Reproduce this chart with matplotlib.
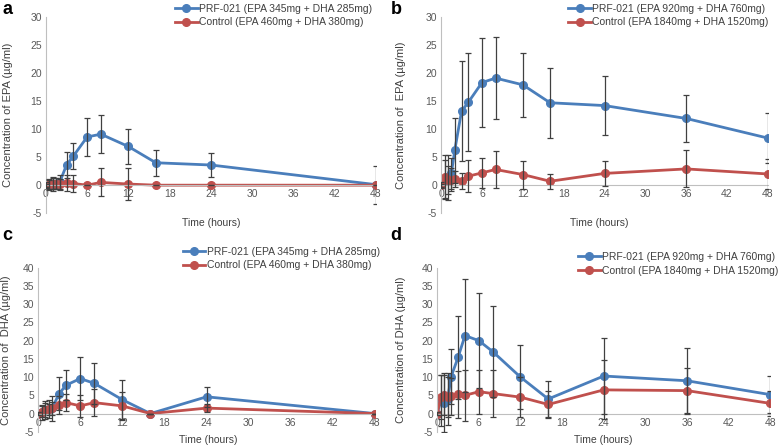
import numpy as np
import matplotlib.pyplot as plt

plt.rcParams['font.family'] = ['Liberation Sans', 'DejaVu Sans']
plt.rcParams['axes.unicode_minus'] = False

# sampling times (hours)
t_short = [0, 0.5, 1, 1.5, 2, 3, 4, 6, 8, 12, 16, 24, 48]
t_long = [0, 0.5, 1, 1.5, 2, 3, 4, 6, 8, 12, 16, 24, 36, 48]

# panel a - EPA, low dose
a_prf = [0, 0.1, 0.2, 0.3, 0.5, 3.6, 5.2, 8.6, 9.1, 6.9, 4.0, 3.6, 0.1]
a_prf_err = [0.5, 1.0, 1.2, 1.0, 1.3, 2.4, 2.3, 3.4, 3.4, 3.2, 2.3, 2.1, 3.4]
a_ctl = [0, 0.2, 0.3, 0.3, 0.2, 0.4, 0.3, 0.0, 0.5, 0.2, 0.0, 0.0, 0.0]
a_ctl_err = [0.3, 0.8, 1.0, 0.9, 0.9, 1.5, 1.6, 0.0, 2.5, 2.9, 0.0, 0.0, 0.0]

# panel b - EPA, high dose
b_prf = [0, 1.0, 1.3, 2.1, 6.2, 13.2, 14.8, 18.3, 19.1, 17.9, 14.7, 14.2, 11.9, 8.4]
b_prf_err = [0.5, 3.5, 4.0, 2.8, 5.8, 8.9, 8.7, 8.0, 7.3, 5.7, 6.2, 5.2, 4.2, 4.5]
b_ctl = [0, 1.5, 1.0, 1.0, 1.1, 0.7, 1.6, 2.2, 2.8, 1.9, 0.7, 2.1, 2.9, 2.0]
b_ctl_err = [0.3, 3.8, 2.5, 2.0, 1.5, 1.4, 2.9, 2.7, 3.3, 2.5, 1.3, 2.3, 3.3, 2.6]

# panel c - DHA, low dose
c_prf = [0, 0.3, 1.0, 1.2, 1.5, 5.5, 7.8, 9.6, 8.3, 3.8, 0.0, 4.6, 0.0]
c_prf_err = [0.5, 2.0, 2.5, 2.5, 3.4, 4.6, 4.1, 6.0, 5.7, 5.5, 0.0, 2.7, 0.0]
c_ctl = [0, 0.5, 1.0, 1.2, 1.5, 2.3, 3.0, 2.1, 3.0, 2.1, 0.0, 1.5, 0.0]
c_ctl_err = [0.3, 1.5, 2.0, 1.5, 1.8, 2.5, 2.3, 3.1, 3.7, 3.7, 0.0, 1.0, 0.0]

# panel d - DHA, high dose
d_prf = [0, 3.5, 3.0, 4.0, 10.1, 15.4, 21.4, 20.0, 17.0, 10.0, 4.0, 10.3, 9.0, 5.2]
d_prf_err = [0.5, 7.0, 8.0, 7.0, 7.5, 11.3, 15.5, 13.1, 12.4, 8.8, 5.0, 10.3, 8.9, 5.1]
d_ctl = [0, 4.5, 5.0, 4.5, 4.7, 5.3, 5.0, 6.0, 5.5, 4.5, 2.5, 6.5, 6.3, 2.8]
d_ctl_err = [0.3, 6.0, 5.5, 5.5, 5.0, 6.5, 7.0, 6.0, 6.5, 5.5, 3.8, 8.1, 6.3, 3.5]

BLUE = '#4a7ebb'
RED = '#c0504d'
GREY = '#404040'


def draw_panel(ax, t, prf, prf_err, ctl, ctl_err, labels, ylabel, ymax, lab_x):
    for y, e, col, lab in [(prf, prf_err, BLUE, labels[0]),
                           (ctl, ctl_err, RED, labels[1])]:
        ax.plot(t, y, color=col, lw=2, marker='o', ms=5.5, label=lab, zorder=2)
        ax.errorbar(t, y, yerr=e, fmt='none', ecolor=GREY, elinewidth=0.9,
                    capsize=2.5, capthick=0.9, zorder=3)
    ax.set_xlim(0, 48)
    ax.set_ylim(-5, ymax)
    ax.set_xticks(np.arange(0, 49, 6))
    ax.set_yticks(np.arange(-5, ymax + 1, 5))
    for s in ['top', 'right']:
        ax.spines[s].set_visible(False)
    ax.spines['bottom'].set_position(('data', 0))
    ax.spines['left'].set_color('#bfbfbf')
    ax.spines['bottom'].set_color('#bfbfbf')
    ax.tick_params(length=0, labelsize=7.5, labelcolor='#595959', pad=3)
    ax.set_ylabel(ylabel, fontsize=8, color='#404040', va='center')
    ax.yaxis.set_label_coords(lab_x, 0.5)


fig = plt.figure(figsize=(7.78, 4.47), dpi=100)
ax_a = fig.add_axes([0.059, 0.523, 0.424, 0.439])
ax_b = fig.add_axes([0.567, 0.523, 0.420, 0.439])
ax_c = fig.add_axes([0.049, 0.034, 0.433, 0.367])
ax_d = fig.add_axes([0.562, 0.034, 0.428, 0.367])

low = ['PRF-021 (EPA 345mg + DHA 285mg)', 'Control (EPA 460mg + DHA 380mg)']
high = ['PRF-021 (EPA 920mg + DHA 760mg)', 'Control (EPA 1840mg + DHA 1520mg)']

draw_panel(ax_a, t_short, a_prf, a_prf_err, a_ctl, a_ctl_err, low,
           'Concentration of EPA (µg/ml)', 30, -0.115)
draw_panel(ax_b, t_long, b_prf, b_prf_err, b_ctl, b_ctl_err, high,
           'Concentration of  EPA (µg/ml)', 30, -0.122)
draw_panel(ax_c, t_short, c_prf, c_prf_err, c_ctl, c_ctl_err, low,
           'Concentration of  DHA (µg/ml)', 40, -0.095)
draw_panel(ax_d, t_long, d_prf, d_prf_err, d_ctl, d_ctl_err, high,
           'Concentration of DHA (µg/ml)', 40, -0.108)

# legends, placed in figure coords
for ax, x, y in [(ax_a, 0.478, 0.992), (ax_b, 0.988, 0.992),
                 (ax_c, 0.488, 0.448), (ax_d, 1.0, 0.436)]:
    ax.legend(loc='upper right', bbox_to_anchor=(x, y),
              bbox_transform=fig.transFigure, frameon=False, fontsize=7.5,
              handlelength=2.2, handletextpad=0.1, labelspacing=0.35,
              borderpad=0, borderaxespad=0, labelcolor='#404040')

# x axis titles
fig.text(0.272, 0.500, 'Time (hours)', ha='center', va='center',
         fontsize=7.5, color='#404040')
fig.text(0.770, 0.500, 'Time (hours)', ha='center', va='center',
         fontsize=7.5, color='#404040')
fig.text(0.268, 0.016, 'Time (hours)', ha='center', va='center',
         fontsize=7.5, color='#404040')
fig.text(0.775, 0.016, 'Time (hours)', ha='center', va='center',
         fontsize=7.5, color='#404040')

# panel letters
for lab, x, y in [('a', 0.003, 0.997), ('b', 0.502, 0.997),
                  ('c', 0.003, 0.493), ('d', 0.502, 0.493)]:
    fig.text(x, y, lab, ha='left', va='top', fontsize=13, weight='bold')

fig.savefig('out.png', dpi=100)
